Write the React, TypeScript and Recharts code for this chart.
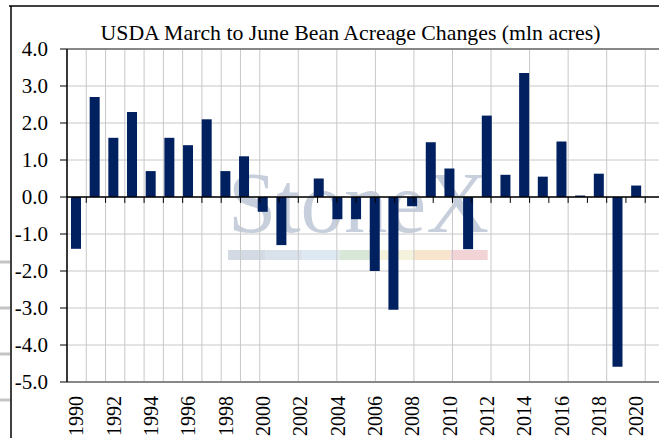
import React from 'react';
import { BarChart, Bar, XAxis, YAxis, CartesianGrid, ReferenceLine } from 'recharts';

const years: number[] = [
  1990, 1991, 1992, 1993, 1994, 1995, 1996, 1997, 1998, 1999,
  2000, 2001, 2002, 2003, 2004, 2005, 2006, 2007, 2008, 2009,
  2010, 2011, 2012, 2013, 2014, 2015, 2016, 2017, 2018, 2019,
  2020, 2021,
];
const changes: (number | null)[] = [
  -1.4, 2.7, 1.6, 2.3, 0.7, 1.6, 1.4, 2.1, 0.7, 1.1,
  -0.4, -1.3, 0.0, 0.5, -0.6, -0.6, -2.0, -3.05, -0.25, 1.48,
  0.77, -1.41, 2.2, 0.6, 3.35, 0.55, 1.5, 0.04, 0.63, -4.59,
  0.31, null,
];
const yTicks: number[] = [-5, -4, -3, -2, -1, 0, 1, 2, 3, 4];
const title = 'USDA March to June Bean Acreage Changes (mln acres)';
const watermark = 'StoneX';
const stripColors: string[] = ['#d3dae3', '#d9e1ea', '#dde8f2', '#d9e7d9', '#f4f2dc', '#f8e5cd', '#f2d4d7'];

const rows = years.map((y, i) => ({ year: y, value: changes[i] }));
const boundaries = Array.from({ length: years.length + 1 }, (_, i) => i);

const FONT = '"Liberation Serif", "Times New Roman", serif';
const NAVY = '#002060';
const textStyle = { fontFamily: FONT };

const XTick = (props: any) => {
  const { x, payload } = props;
  const ty = 396;
  return (
    <text
      x={x}
      y={ty}
      transform={`rotate(-90, ${x}, ${ty})`}
      textAnchor="end"
      dominantBaseline="central"
      style={textStyle}
      fontSize={20}
      fill="#000"
    >
      {payload.value}
    </text>
  );
};

const YTick = (props: any) => {
  const { x, y, payload } = props;
  return (
    <text
      x={x}
      y={y}
      textAnchor="end"
      dominantBaseline="central"
      style={textStyle}
      fontSize={21}
      fill="#000"
    >
      {Number(payload.value).toFixed(1)}
    </text>
  );
};

export default function App() {
  return (
    <div
      style={{
        position: 'absolute',
        left: 0,
        top: 0,
        width: 659,
        height: 438,
        overflow: 'hidden',
        background: '#fff',
        fontFamily: FONT,
      }}
    >
      <svg width={659} height={438} style={{ position: 'absolute', left: 0, top: 0 }}>
        <line x1={9} y1={6} x2={659} y2={6} stroke="#000" strokeWidth={1.5} />
        <line x1={11} y1={6} x2={11} y2={438} stroke="#000" strokeWidth={1.5} />
        {[262, 308, 354, 400].map((yy) => (
          <line key={yy} x1={0} y1={yy} x2={10} y2={yy} stroke="#c4c4c4" strokeWidth={3} />
        ))}
        <text x={228} y={232} style={textStyle} fontSize={87} fill="#c6cfdb">
          {watermark}
        </text>
        {stripColors.map((c, i) => (
          <rect key={i} x={228 + i * 37.1} y={250} width={37.1} height={10} fill={c} />
        ))}
        <text x={350.5} y={40} textAnchor="middle" style={textStyle} fontSize={21.8} fill="#000">
          {title}
        </text>
      </svg>
      <div style={{ position: 'absolute', left: 0, top: 0 }}>
        <BarChart
          width={680}
          height={438}
          data={rows}
          margin={{ top: 49, right: 15.5, left: 0, bottom: 0 }}
          barSize={10}
        >
          <XAxis xAxisId="grid" type="number" domain={[0, years.length]} ticks={boundaries} hide />
          <CartesianGrid xAxisId="grid" stroke="#c8c8c8" strokeWidth={1} />
          <XAxis
            dataKey="year"
            interval={1}
            height={56}
            tickLine={false}
            axisLine={{ stroke: '#888', strokeWidth: 2 }}
            tick={<XTick />}
          />
          <YAxis
            domain={[-5, 4]}
            ticks={yTicks}
            interval={0}
            width={67}
            tickSize={7}
            tickMargin={12}
            tick={<YTick />}
            tickLine={{ stroke: '#000' }}
            axisLine={{ stroke: '#000', strokeWidth: 1.5 }}
          />
          <ReferenceLine y={4} stroke="#888" strokeWidth={2} />
          <Bar dataKey="value" fill={NAVY} isAnimationActive={false} />
          <ReferenceLine y={0} stroke="#000" strokeWidth={1.5} />
          {boundaries.slice(1).map((b) => (
            <ReferenceLine
              key={b}
              xAxisId="grid"
              segment={[{ x: b, y: 0 }, { x: b, y: -0.16 }]}
              stroke="#000"
              strokeWidth={1}
            />
          ))}
        </BarChart>
      </div>
    </div>
  );
}
